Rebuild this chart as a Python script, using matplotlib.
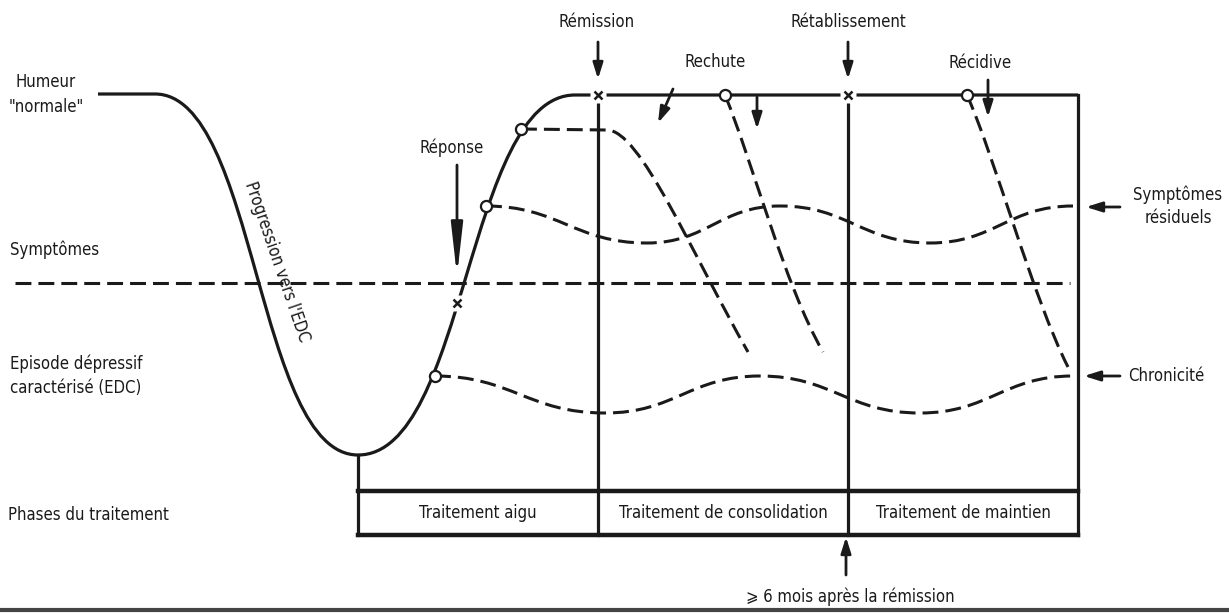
import numpy as np
import matplotlib.pyplot as plt
from matplotlib.path import Path
from matplotlib.patches import PathPatch

# Coordonnées en pixels de l'image (x vers la droite, y vers le bas)

# Courbe principale de l'humeur (noeuds à tangente horizontale)
humeur_x = [98, 155, 358, 575, 1078]
humeur_y = [94, 94, 455, 95, 95]

# Symptômes résiduels (vague en pointillés)
residuel_x = [486, 647, 780, 930, 1073]
residuel_y = [206, 243, 206, 243, 206]

# Chronicité (vague en pointillés)
chronique_x = [435, 605, 760, 920, 1073]
chronique_y = [376, 413, 376, 413, 376]

# Rechutes / récidive (points de contrôle de Bézier)
rechute1 = [(521, 129), (607, 130), (640, 130), (690, 250), (748, 352)]
rechute2 = [(725, 95), (752, 160), (784, 284), (823, 352)]
recidive = [(967, 95), (994, 155), (1033, 298), (1068, 367)]

# Seuil des symptômes
seuil_y = 283
seuil_x = [15, 1070]

# Repères
cercles_x = [435, 486, 521, 725, 967]
cercles_y = [376, 206, 129, 95, 95]
croix_x = [457, 598, 848]
croix_y = [303, 95, 95]

# Tableau des phases
phases_bords = [358, 598, 848, 1078]
phases = ["Traitement aigu", "Traitement de consolidation", "Traitement de maintien"]
table_haut, table_bas = 491, 535

# =============================================

noir = "#1a1a1a"
plt.rcParams['font.family'] = ['Liberation Sans Narrow', 'DejaVu Sans']
plt.rcParams['font.stretch'] = 'condensed'
fs = 12

fig = plt.figure(figsize=(12.29, 6.13), dpi=100)
ax = fig.add_axes([0, 0, 1, 1])
ax.set_xlim(0, 1229)
ax.set_ylim(613, 0)
ax.axis("off")

tirets = (0, (5.2, 2.3))


def vague(xs, ys, k=0.45):
    # segments de Bézier avec tangentes horizontales entre les noeuds
    verts = [(xs[0], ys[0])]
    codes = [Path.MOVETO]
    for i in range(len(xs) - 1):
        dx = xs[i + 1] - xs[i]
        verts += [(xs[i] + k * dx, ys[i]), (xs[i + 1] - k * dx, ys[i + 1]), (xs[i + 1], ys[i + 1])]
        codes += [Path.CURVE4] * 3
    return Path(verts, codes)


# courbe principale
verts = [(humeur_x[0], humeur_y[0]), (humeur_x[1], humeur_y[1])]
codes = [Path.MOVETO, Path.LINETO]
p = vague(humeur_x[1:4], humeur_y[1:4], k=0.5)
verts += list(p.vertices[1:])
codes += list(p.codes[1:])
verts.append((humeur_x[4], humeur_y[4]))
codes.append(Path.LINETO)
ax.add_patch(PathPatch(Path(verts, codes), fill=False, lw=2.3, ec=noir, zorder=3))

# cadre de droite et verticales
ax.plot([humeur_x[4], humeur_x[4]], [humeur_y[4], table_bas], color=noir, lw=2.3, zorder=3)
for x in [598, 848]:
    ax.plot([x, x], [humeur_y[4], table_bas], color=noir, lw=2.3, zorder=3)
ax.plot([phases_bords[0]] * 2, [humeur_y[2], table_bas], color=noir, lw=2.3, zorder=3)

# tableau
ax.plot([phases_bords[0], phases_bords[-1]], [table_haut, table_haut], color=noir, lw=3.2, zorder=3)
ax.plot([phases_bords[0], phases_bords[-1]], [table_bas, table_bas], color=noir, lw=3.2, zorder=3)
for i, nom in enumerate(phases):
    ax.text((phases_bords[i] + phases_bords[i + 1]) / 2, (table_haut + table_bas) / 2, nom,
            ha="center", va="center", fontsize=fs, color=noir)

# seuil en pointillés
ax.plot(seuil_x, [seuil_y, seuil_y], color=noir, lw=2.2, ls=tirets, zorder=2)

# vagues en pointillés
ax.add_patch(PathPatch(vague(residuel_x, residuel_y), fill=False, lw=2.2, ec=noir, ls=tirets, zorder=2))
ax.add_patch(PathPatch(vague(chronique_x, chronique_y), fill=False, lw=2.2, ec=noir, ls=tirets, zorder=2))

# rechutes
c = [Path.MOVETO, Path.LINETO, Path.CURVE4, Path.CURVE4, Path.CURVE4]
ax.add_patch(PathPatch(Path(rechute1, c), fill=False, lw=2.2, ec=noir, ls=tirets, zorder=2))
c = [Path.MOVETO, Path.CURVE4, Path.CURVE4, Path.CURVE4]
ax.add_patch(PathPatch(Path(rechute2, c), fill=False, lw=2.2, ec=noir, ls=tirets, zorder=2))
ax.add_patch(PathPatch(Path(recidive, c), fill=False, lw=2.2, ec=noir, ls=tirets, zorder=2))

# repères
ax.plot(cercles_x, cercles_y, "o", ms=8, mfc="white", mec=noir, mew=1.6, ls="none", zorder=5)
ax.plot(croix_x, croix_y, "s", ms=11, mfc="white", mec="none", ls="none", zorder=5)
ax.plot(croix_x, croix_y, "x", ms=6, mec=noir, mew=1.8, ls="none", zorder=6)


# flèches
def fleche(x0, y0, x1, y1, hl=0.95, hw=0.3):
    ax.annotate("", xy=(x1, y1), xytext=(x0, y0),
                arrowprops=dict(arrowstyle=f"-|>,head_length={hl},head_width={hw}",
                                color=noir, lw=2, mutation_scale=10, shrinkA=0, shrinkB=0),
                zorder=4)


fleche(598, 42, 598, 79)
fleche(848, 42, 848, 79)
fleche(673, 89, 658, 123)
fleche(757, 97, 757, 129)
fleche(988, 80, 988, 117)
fleche(457, 165, 457, 276, hl=3.1, hw=0.35)
fleche(1120, 207, 1086, 207)
fleche(1120, 376, 1084, 376)
fleche(846, 575, 846, 537)

# textes
ax.text(46, 82, "Humeur", ha="center", va="center", fontsize=fs, color=noir)
ax.text(46, 107, "\"normale\"", ha="center", va="center", fontsize=fs, color=noir)
ax.text(10, 250, "Symptômes", ha="left", va="center", fontsize=fs, color=noir)
ax.text(10, 364, "Episode dépressif", ha="left", va="center", fontsize=fs, color=noir)
ax.text(10, 388, "caractérisé (EDC)", ha="left", va="center", fontsize=fs, color=noir)
ax.text(8, 515, "Phases du traitement", ha="left", va="center", fontsize=fs, color=noir)
ax.text(277, 262, "Progression vers l'EDC", ha="center", va="center", fontsize=fs,
        color=noir, rotation=-71, rotation_mode="anchor")
ax.text(597, 22, "Rémission", ha="center", va="center", fontsize=fs, color=noir)
ax.text(848, 22, "Rétablissement", ha="center", va="center", fontsize=fs, color=noir)
ax.text(715, 62, "Rechute", ha="center", va="center", fontsize=fs, color=noir)
ax.text(980, 63, "Récidive", ha="center", va="center", fontsize=fs, color=noir)
ax.text(452, 148, "Réponse", ha="center", va="center", fontsize=fs, color=noir)
ax.text(1178, 195, "Symptômes", ha="center", va="center", fontsize=fs, color=noir)
ax.text(1178, 218, "résiduels", ha="center", va="center", fontsize=fs, color=noir)
ax.text(1128, 376, "Chronicité", ha="left", va="center", fontsize=fs, color=noir)
ax.text(850, 597, "⩾ 6 mois après la rémission", ha="center", va="center", fontsize=fs, color=noir)

# trait gris du bas
ax.plot([0, 1229], [610, 610], color="#444444", lw=3)

fig.savefig("out.png", dpi=100)
